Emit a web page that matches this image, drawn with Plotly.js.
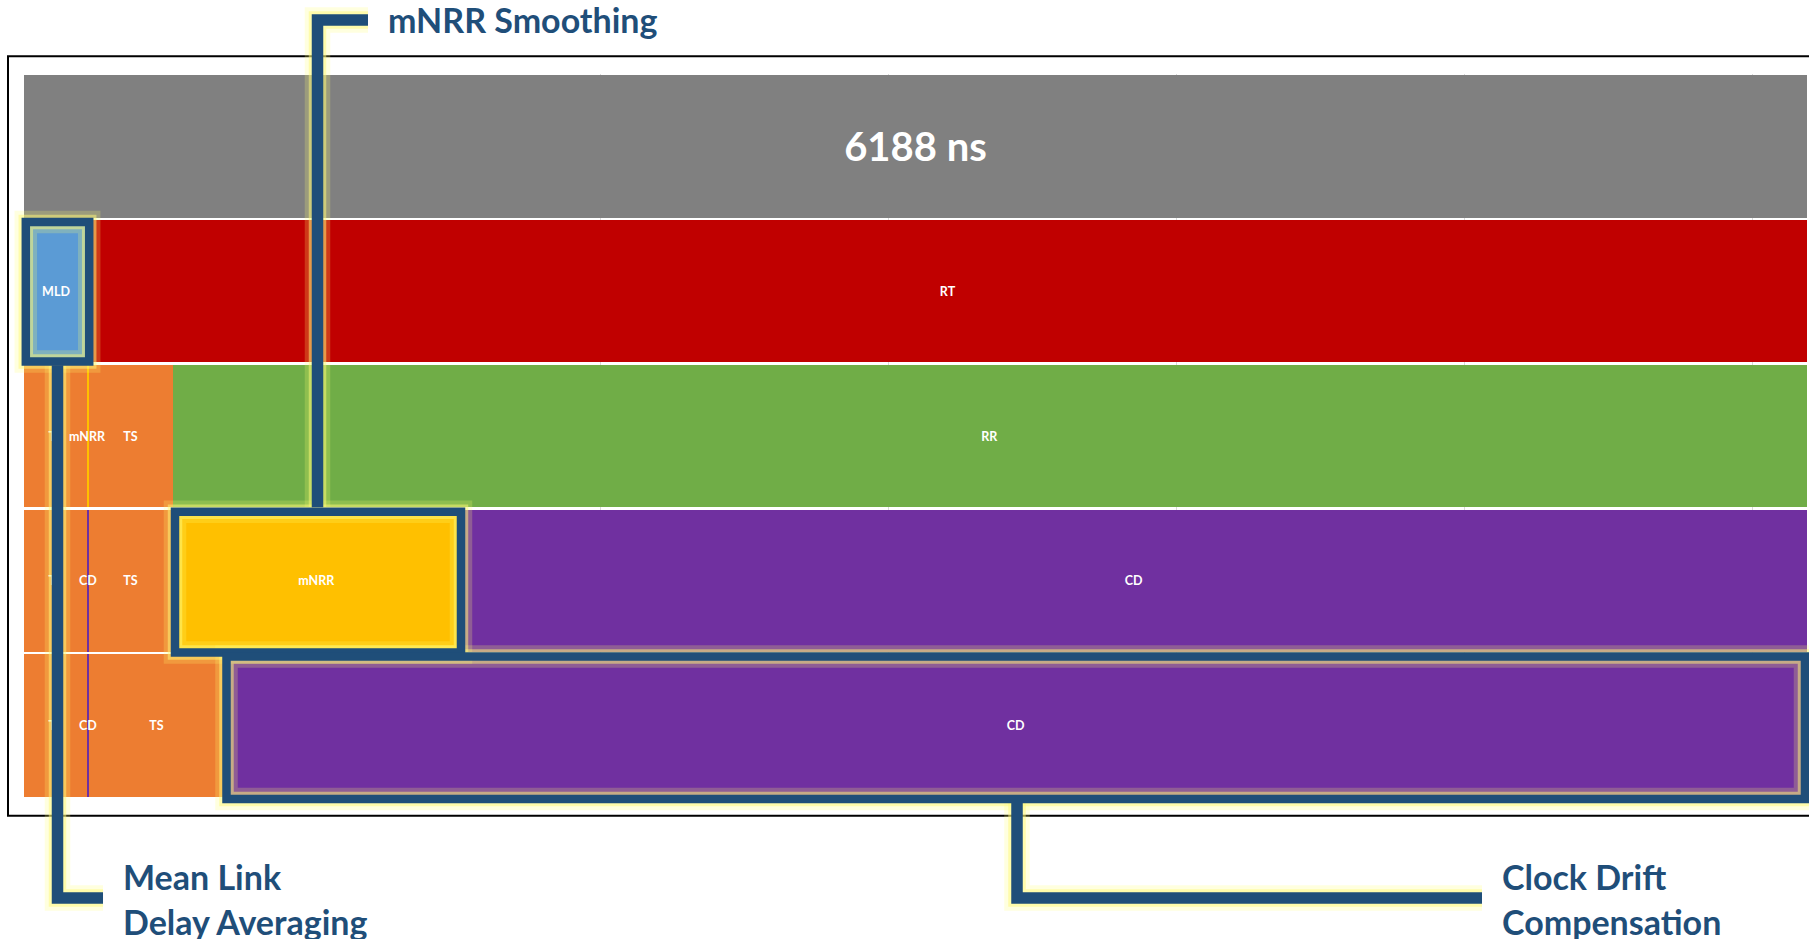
<!DOCTYPE html>
<html>
<head>
<meta charset="utf-8">
<script src="https://cdn.plot.ly/plotly-3.0.1.min.js"></script>
<style>
  html, body { margin: 0; padding: 0; background: #ffffff; }
  #chart { width: 1809px; height: 939px; }
</style>
</head>
<body>
<div id="chart"></div>
<script>
// ---- data (ns) ----
const rowNames   = ['total', 'rt', 'rr', 'cd1', 'cd2'];
const totalLabels = ['6188 ns'];
const totalValues = [6188];
const rtLabels   = ['MLD', 'RT'];
const rtValues   = [224, 5964];
const rrLabels   = ['TS', 'mNRR', 'TS', 'RR'];
const rrValues   = [220, 4, 292, 5672];
const cd1Labels  = ['TS', 'CD', 'TS', 'mNRR', 'CD'];
const cd1Values  = [220, 4, 292, 1000, 4672];
const cd2Labels  = ['TS', 'CD', 'TS', 'CD'];
const cd2Values  = [220, 4, 472, 5492];
const calloutTexts = ['mNRR Smoothing', 'Mean Link', 'Delay Averaging', 'Clock Drift', 'Compensation'];

// ---- styles ----
const colorOf = {
  '6188 ns': '#808080', 'MLD': '#5B9BD5', 'RT': '#C00000', 'TS': '#ED7D31',
  'mNRR': '#FFC000', 'RR': '#70AD47', 'CD': '#7030A0'
};
const rows = [
  [rowNames[0], totalLabels, totalValues],
  [rowNames[1], rtLabels, rtValues],
  [rowNames[2], rrLabels, rrValues],
  [rowNames[3], cd1Labels, cd1Values],
  [rowNames[4], cd2Labels, cd2Values]
];
const labelFontFamily = 'Lato, "Open Sans", sans-serif';
const thinLimit = 50; // segments narrower than this (ns) get their label as an overlay

const traces = [];
const thinLabels = [];
rows.forEach(([name, labels, values]) => {
  let cum = 0;
  labels.forEach((lab, i) => {
    const big = (name === 'total');
    const thin = values[i] < thinLimit;
    traces.push({
      type: 'bar', orientation: 'h',
      y: [name], x: [values[i]],
      text: [lab], textposition: thin ? 'none' : 'inside', insidetextanchor: 'middle',
      textangle: 0,
      textfont: { family: labelFontFamily, size: big ? 40 : 12.5, color: '#ffffff', weight: 'bold' },
      marker: { color: colorOf[lab], line: { width: 0 } },
      hoverinfo: 'skip', showlegend: false
    });
    if (thin) {
      thinLabels.push({
        text: lab, xref: 'x', yref: 'y', x: cum + values[i] / 2, y: name,
        xanchor: 'center', yanchor: 'middle', showarrow: false,
        font: { family: labelFontFamily, size: 12.5, color: '#ffffff', weight: 'bold' }
      });
    }
    cum += values[i];
  });
});

// ---- pixel -> paper helpers ----
const Lp = 24, Rp = 1807, Tp = 73.5, Bp = 798;
const px = x => (x - Lp) / (Rp - Lp);
const py = y => (Bp - y) / (Bp - Tp);

const navy = '#1F4E79';
const glowA = 'rgba(255,255,110,0.22)';
const glowB = 'rgba(255,250,120,0.5)';

function pathD(pts) {
  return pts.map((p, i) => (i ? 'L' : 'M') + px(p[0]).toFixed(5) + ',' + py(p[1]).toFixed(5)).join(' ');
}
function rectPts(x0, y0, x1, y1) {
  return [[x0, y0], [x1, y0], [x1, y1], [x0, y1]];
}

const elements = [
  { d: pathD(rectPts(25.8, 221.6, 89.2, 361.3)) + ' Z', w: 8.5 },          // MLD box
  { d: pathD(rectPts(175, 511.5, 461, 652.5)) + ' Z', w: 8.5 },            // mNRR box
  { d: pathD(rectPts(226.5, 656.5, 1805, 799)) + ' Z', w: 8.5 },           // CD box
  { d: pathD([[57.5, 365], [57.5, 898], [103, 898]]), w: 11.5 },           // MLD connector
  { d: pathD([[317.5, 507], [317.5, 19.5], [368, 19.5]]), w: 11.5 },       // mNRR connector
  { d: pathD([[1017, 803], [1017, 898], [1482, 898]]), w: 11.5 }           // CD connector
];

const shapes = [];
shapes.push({
  type: 'rect', xref: 'paper', yref: 'paper',
  x0: px(8), x1: px(1830), y0: py(815.7), y1: py(55.7),
  line: { color: '#000000', width: 2 }, fillcolor: 'rgba(0,0,0,0)', layer: 'above'
});
elements.forEach(e => shapes.push({ type: 'path', xref: 'paper', yref: 'paper', path: e.d, line: { color: glowA, width: e.w + 14 }, layer: 'above' }));
elements.forEach(e => shapes.push({ type: 'path', xref: 'paper', yref: 'paper', path: e.d, line: { color: glowB, width: e.w + 6 }, layer: 'above' }));
elements.forEach(e => shapes.push({ type: 'path', xref: 'paper', yref: 'paper', path: e.d, line: { color: navy, width: e.w }, layer: 'above' }));

const annFont = { family: labelFontFamily, size: 34, color: navy, weight: 'bold' };
const annPos = [[386, 19], [121, 877], [121, 922], [1500, 877], [1500, 922]];
const annotations = calloutTexts.map((t, i) => ({
  text: t, xref: 'paper', yref: 'paper', x: px(annPos[i][0]), y: py(annPos[i][1]),
  xanchor: 'left', yanchor: 'middle', showarrow: false, font: annFont
})).concat(thinLabels);

const layout = {
  width: 1809, height: 939,
  margin: { l: Lp, r: 1809 - Rp, t: Tp, b: 939 - Bp, pad: 0 },
  paper_bgcolor: '#ffffff', plot_bgcolor: '#ffffff',
  barmode: 'stack', bargap: 0.016,
  showlegend: false,
  xaxis: { range: [0, 6188], dtick: 1000, tick0: 0, showgrid: true, gridcolor: '#d9d9d9', gridwidth: 1,
           zeroline: false, showticklabels: false, ticks: '', showline: false, fixedrange: true },
  yaxis: { type: 'category', categoryorder: 'array', categoryarray: rowNames, autorange: 'reversed',
           showgrid: false, zeroline: false, showticklabels: false, ticks: '', showline: false, fixedrange: true },
  shapes: shapes,
  annotations: annotations
};

Plotly.newPlot('chart', traces, layout, { displayModeBar: false, staticPlot: true });
</script>
</body>
</html>
